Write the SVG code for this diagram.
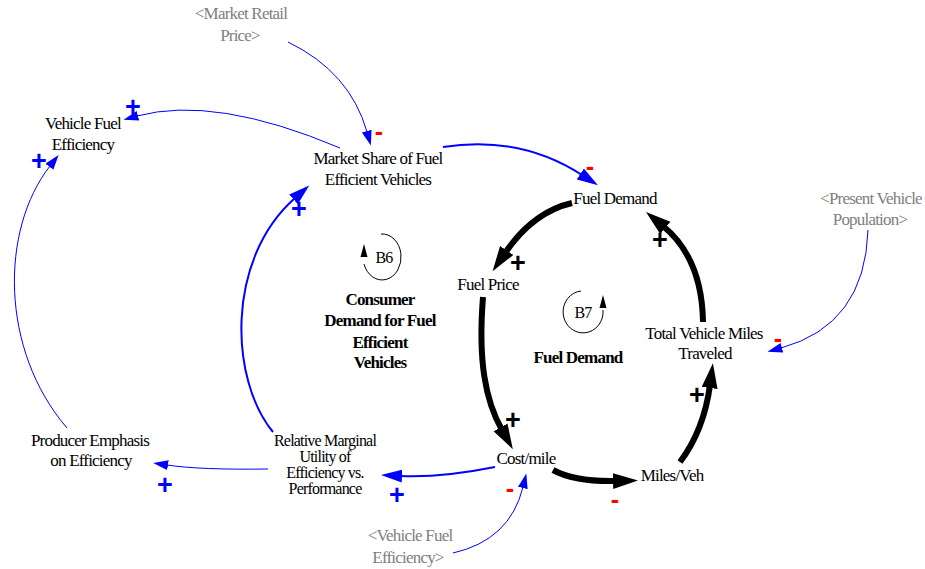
<svg xmlns="http://www.w3.org/2000/svg" width="925" height="569" viewBox="0 0 925 569">
<style>
.n{font-family:"Liberation Serif","Times New Roman",serif;font-size:17px;letter-spacing:-0.8px;text-anchor:middle;fill:#000}
.t{font-size:16px}
.g{fill:#808080}
.bd{font-weight:bold}
.lp{font-family:"Liberation Serif","Times New Roman",serif;font-size:16px;letter-spacing:-0.8px;text-anchor:middle;fill:#000}
.s{font-family:"Liberation Sans",Arial,sans-serif;font-weight:bold;text-anchor:middle;dominant-baseline:central;font-size:27px}
.sp{fill:#0000ff}
.sk{fill:#000}
.sm{fill:#ff0000;font-size:25px}
.k{fill:none;stroke:#000;stroke-width:6}
.b1{fill:none;stroke:#0000ff;stroke-width:1}
.b2{fill:none;stroke:#0000ff;stroke-width:2}
.loop{fill:none;stroke:#000;stroke-width:1}
</style>
<defs>
<marker id="ak" markerUnits="userSpaceOnUse" markerWidth="26" markerHeight="18" refX="3" refY="8" orient="auto"><path d="M0,0 L25,8 L0,16 z" fill="#000"/></marker>
<marker id="a1" markerUnits="userSpaceOnUse" markerWidth="17" markerHeight="11" refX="1" refY="5" orient="auto"><path d="M0,0 L15,5 L0,10 z" fill="#0000ff"/></marker>
<marker id="a2" markerUnits="userSpaceOnUse" markerWidth="22" markerHeight="14" refX="2" refY="6.5" orient="auto"><path d="M0,0 L21,6.5 L0,13 z" fill="#0000ff"/></marker>
</defs>

<g id="connectors">
<path id="c1" class="b1" d="M340,148 Q215,95 137,116" marker-end="url(#a1)"/>
<path id="c2" class="b1" d="M288,42 Q350,72 367,132" marker-end="url(#a1)"/>
<path id="c3" class="b2" d="M443,147 Q520,135 582,175" marker-end="url(#a2)"/>
<path id="c4" class="k" d="M572,203 Q533,212 505,253" marker-end="url(#ak)"/>
<path id="c5" class="k" d="M483,297 C478,360 485,400 502,430" marker-end="url(#ak)"/>
<path id="c6" class="k" d="M553,470 Q575,482 616,481" marker-end="url(#ak)"/>
<path id="c7" class="k" d="M680,462 Q704,430 710,385" marker-end="url(#ak)"/>
<path id="c8" class="k" d="M703,322 Q702,258 663,226" marker-end="url(#ak)"/>
<path id="c9" class="b1" d="M868,230 Q865,325 781,348" marker-end="url(#a1)"/>
<path id="c10" class="b2" d="M495,467 Q440,478 400,476" marker-end="url(#a2)"/>
<path id="c11" class="b1" d="M268,469 Q200,470 167,465" marker-end="url(#a1)"/>
<path id="c12" class="b2" d="M273,432 C230,380 225,260 295,198" marker-end="url(#a2)"/>
<path id="c13" class="b1" d="M67,428 C0,350 0,230 50,166" marker-end="url(#a1)"/>
<path id="c14" class="b1" d="M453,553 Q510,540 523,487" marker-end="url(#a1)"/>
<text class="s sp" x="133" y="107">+</text>
<text class="s sm" x="379" y="131">-</text>
<text class="s sm" x="590" y="166">-</text>
<text class="s sk" x="518" y="263">+</text>
<text class="s sk" x="513" y="420">+</text>
<text class="s sm" x="615" y="499">-</text>
<text class="s sk" x="697" y="395">+</text>
<text class="s sk" x="660" y="240">+</text>
<text class="s sm" x="778" y="338">-</text>
<text class="s sp" x="397" y="495">+</text>
<text class="s sp" x="165" y="485">+</text>
<text class="s sp" x="299" y="209">+</text>
<text class="s sp" x="39" y="161">+</text>
<text class="s sm" x="510" y="488">-</text>
</g>

<g id="market-retail-price"><text class="n g" x="241" y="19">&lt;Market Retail</text><text class="n g" x="240" y="41">Price&gt;</text></g>
<g id="vehicle-fuel-efficiency"><text class="n" x="83" y="129">Vehicle Fuel</text><text class="n" x="83" y="150">Efficiency</text></g>
<g id="market-share"><text class="n" x="378" y="164">Market Share of Fuel</text><text class="n" x="378" y="185">Efficient Vehicles</text></g>
<g id="fuel-demand"><text class="n" x="615" y="204">Fuel Demand</text></g>
<g id="present-vehicle-population"><text class="n g" x="871" y="204">&lt;Present Vehicle</text><text class="n g" x="870" y="225">Population&gt;</text></g>
<g id="fuel-price"><text class="n" x="488" y="290">Fuel Price</text></g>
<g id="total-vehicle-miles"><text class="n" x="704" y="339">Total Vehicle Miles</text><text class="n" x="705" y="359">Traveled</text></g>
<g id="producer-emphasis"><text class="n" x="90" y="446">Producer Emphasis</text><text class="n" x="91" y="466">on Efficiency</text></g>
<g id="relative-marginal-utility"><text class="n t" x="325" y="446">Relative Marginal</text><text class="n t" x="325" y="462">Utility of</text><text class="n t" x="325" y="478">Efficiency vs.</text><text class="n t" x="325" y="494">Performance</text></g>
<g id="cost-mile"><text class="n" x="526" y="464">Cost/mile</text></g>
<g id="miles-veh"><text class="n" x="672" y="481">Miles/Veh</text></g>
<g id="vehicle-fuel-efficiency-shadow"><text class="n g" x="410" y="541">&lt;Vehicle Fuel</text><text class="n g" x="408" y="563">Efficiency&gt;</text></g>

<g id="loop-b6">
<path class="loop" d="M381,234 A19 23 0 1 1 364,264"/>
<path d="M360.5,257 L367.5,257 L364,244 z" fill="#000"/>
<text class="lp" x="384" y="263">B6</text>
<text class="n bd" x="380" y="305">Consumer</text>
<text class="n bd" x="380" y="326">Demand for Fuel</text>
<text class="n bd" x="380" y="348">Efficient</text>
<text class="n bd" x="380" y="368">Vehicles</text>
</g>
<g id="loop-b7">
<path class="loop" d="M581,291 A20 21 0 1 0 603,310"/>
<path d="M599.5,308 L606.5,308 L603,295 z" fill="#000"/>
<text class="lp" x="583" y="318">B7</text>
<text class="n bd" x="578" y="363">Fuel Demand</text>
</g>
</svg>
